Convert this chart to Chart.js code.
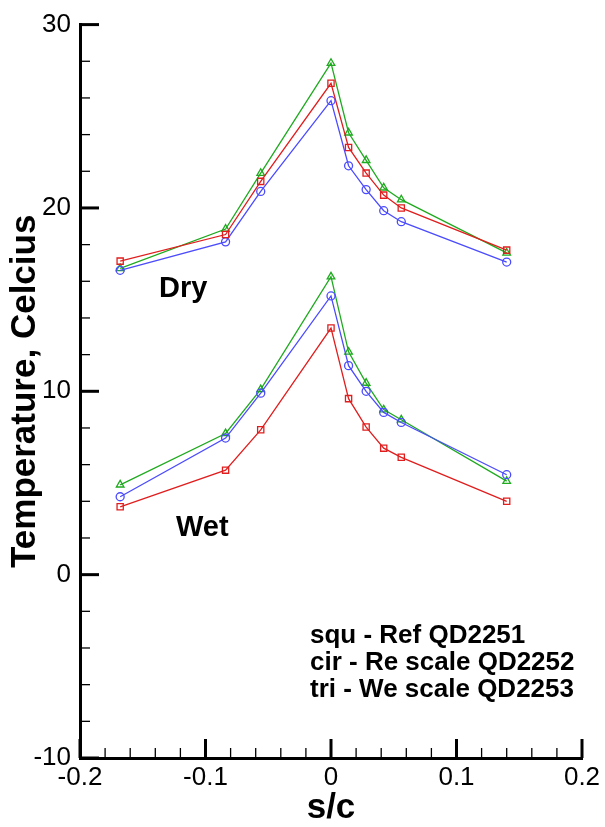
<!DOCTYPE html>
<html>
<head>
<meta charset="utf-8">
<script src="https://cdn.jsdelivr.net/npm/chart.js@4.4.1/dist/chart.umd.min.js"></script>
<style>
    body { margin: 0; background: #fff; }
    #wrap { width: 605px; height: 827px; position: relative; }
</style>
</head>
<body>
<div id="wrap"><canvas id="tempChart"></canvas></div>
<script>
// Positions along the surface, s/c
const sc = [-0.168, -0.084, -0.056, 0, 0.014, 0.028, 0.042, 0.056, 0.14];

// Dry bulb temperatures (Celcius)
const refDry = [17.1, 18.55, 21.45, 26.8, 23.3, 21.9, 20.7, 20.0, 17.7];
const reDry  = [16.6, 18.15, 20.9, 25.85, 22.3, 21.0, 19.85, 19.25, 17.05];
const weDry  = [16.7, 18.85, 21.9, 27.9, 24.1, 22.6, 21.1, 20.45, 17.55];

// Wet bulb temperatures (Celcius)
const refWet = [3.7, 5.7, 7.9, 13.45, 9.6, 8.05, 6.9, 6.4, 4.0];
const reWet  = [4.25, 7.45, 9.9, 15.2, 11.4, 10.0, 8.85, 8.3, 5.45];
const weWet  = [4.9, 7.7, 10.1, 16.25, 12.15, 10.45, 9.0, 8.45, 5.1];

const legendLines = ['squ - Ref QD2251', 'cir - Re scale QD2252', 'tri - We scale QD2253'];

const FONT = "'Liberation Sans', Arial, sans-serif";
const RED = '#e01e1e';
const BLUE = '#4b4bff';
const GREEN = '#1faa1f';

function toPoints(values) {
    return values.map((v, i) => ({ x: sc[i], y: v }));
}

function makeSeries(values, color, style, radius) {
    return {
        data: toPoints(values),
        borderColor: color,
        borderWidth: 1.3,
        pointStyle: style,
        pointRadius: radius,
        pointBorderColor: color,
        pointBorderWidth: 1.3,
        pointBackgroundColor: 'rgba(0,0,0,0)',
        fill: false,
        tension: 0
    };
}

// Inward major/minor tick marks plus the free text labels
const decorations = {
    id: 'decorations',
    afterDraw(chart) {
        const ctx = chart.ctx;
        const xs = chart.scales.x;
        const ys = chart.scales.y;
        const area = chart.chartArea;
        ctx.save();
        ctx.strokeStyle = '#000';
        ctx.lineCap = 'butt';

        // y ticks
        for (let v = -10; v <= 30; v += 2) {
            const major = v % 10 === 0;
            const py = ys.getPixelForValue(v);
            ctx.lineWidth = major ? 3 : 1.3;
            ctx.beginPath();
            ctx.moveTo(area.left, py);
            ctx.lineTo(area.left + (major ? 19 : 10), py);
            ctx.stroke();
        }
        // x ticks
        for (let i = -10; i <= 10; i++) {
            const v = i * 0.02;
            const major = i % 5 === 0;
            const px = xs.getPixelForValue(v);
            ctx.lineWidth = major ? 3 : 1.3;
            ctx.beginPath();
            ctx.moveTo(px, area.bottom);
            ctx.lineTo(px, area.bottom - (major ? 19 : 10));
            ctx.stroke();
        }

        ctx.fillStyle = '#000';
        ctx.textAlign = 'left';
        ctx.textBaseline = 'alphabetic';
        ctx.font = 'bold 29px ' + FONT;
        ctx.fillText('Dry', 159, 297);
        ctx.fillText('Wet', 176, 536);

        ctx.font = 'bold 26px ' + FONT;
        legendLines.forEach((line, i) => {
            ctx.fillText(line, 310, 643 + i * 27);
        });
        ctx.restore();
    }
};

const ctx = document.getElementById('tempChart').getContext('2d');
new Chart(ctx, {
    type: 'line',
    data: {
        datasets: [
            makeSeries(refDry, RED, 'rect', 4.4),
            makeSeries(reDry, BLUE, 'circle', 4),
            makeSeries(weDry, GREEN, 'triangle', 4.4),
            makeSeries(refWet, RED, 'rect', 4.4),
            makeSeries(reWet, BLUE, 'circle', 4),
            makeSeries(weWet, GREEN, 'triangle', 4.4)
        ]
    },
    options: {
        responsive: true,
        maintainAspectRatio: false,
        animation: false,
        layout: { padding: { top: 19, right: 23, left: 0, bottom: 0 } },
        plugins: {
            legend: { display: false },
            tooltip: { enabled: false }
        },
        scales: {
            x: {
                type: 'linear',
                min: -0.2,
                max: 0.2,
                grid: { display: false, drawTicks: false },
                border: { display: true, width: 3, color: '#000' },
                ticks: {
                    stepSize: 0.1,
                    autoSkip: false,
                    maxRotation: 0,
                    padding: 4,
                    color: '#000',
                    font: { family: FONT, size: 26 },
                    callback: v => Math.abs(v) < 1e-9 ? '0' : v.toFixed(1)
                },
                title: {
                    display: true,
                    text: 's/c',
                    color: '#000',
                    font: { family: FONT, size: 35, weight: 'bold', lineHeight: 1 },
                    padding: { top: 0, bottom: 1.5 }
                },
                afterFit: s => { s.height = 69; }
            },
            y: {
                min: -10,
                max: 30,
                grid: { display: false, drawTicks: false },
                border: { display: true, width: 3, color: '#000' },
                ticks: {
                    stepSize: 10,
                    padding: 9,
                    color: '#000',
                    font: { family: FONT, size: 26 }
                },
                title: {
                    display: true,
                    text: 'Temperature, Celcius',
                    color: '#000',
                    font: { family: FONT, size: 35, weight: 'bold', lineHeight: 1 },
                    padding: { top: 8, bottom: 0 }
                },
                afterFit: s => { s.width = 80; }
            }
        }
    },
    plugins: [decorations]
});
</script>
</body>
</html>
